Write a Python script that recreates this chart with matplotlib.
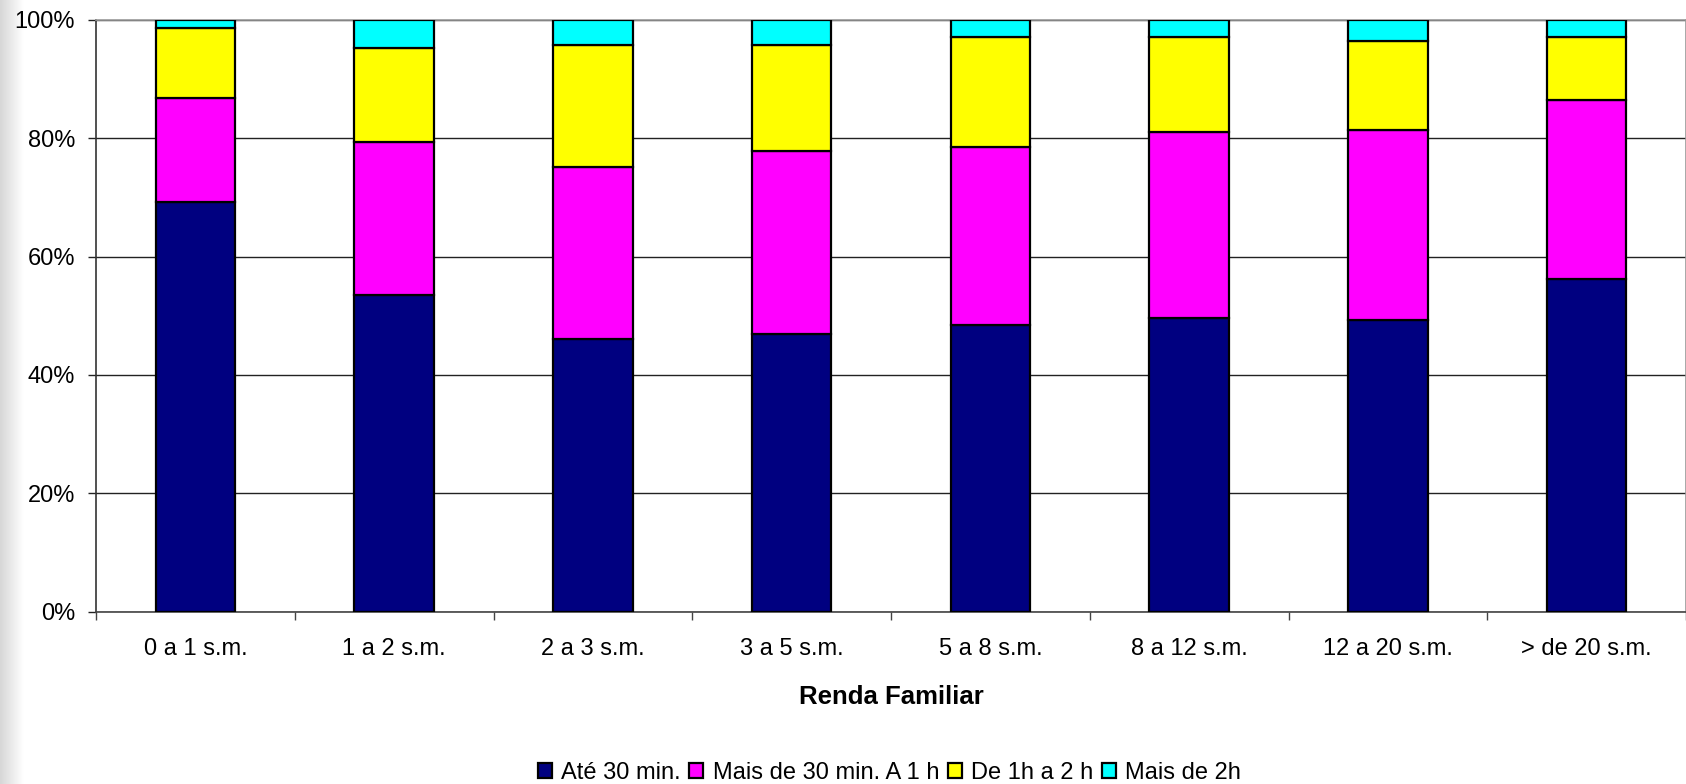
#tempo de deslocamento por faixa de renda familiar

import numpy as np
import matplotlib
matplotlib.use('Agg')
import matplotlib.pyplot as plt
from matplotlib.ticker import FixedLocator, PercentFormatter

plt.rcParams['font.family'] = ['Liberation Sans', 'DejaVu Sans']

#faixas de renda
faixas = ['0 a 1 s.m.', '1 a 2 s.m.', '2 a 3 s.m.', '3 a 5 s.m.',
          '5 a 8 s.m.', '8 a 12 s.m.', '12 a 20 s.m.', '> de 20 s.m.']

#percentuais de cada faixa de tempo
ate_30 = [69.3, 53.5, 46.1, 46.9, 48.4, 49.6, 49.2, 56.2]
de_30_a_1h = [17.5, 25.9, 29.1, 30.9, 30.2, 31.4, 32.2, 30.2]
de_1h_a_2h = [11.9, 15.8, 20.5, 17.9, 18.6, 16.2, 15.0, 10.8]
mais_2h = [1.3, 4.8, 4.3, 4.3, 2.8, 2.8, 3.6, 2.8]

series = [('Até 30 min.', ate_30, '#000080'),
          ('Mais de 30 min. A 1 h', de_30_a_1h, '#FF00FF'),
          ('De 1h a 2 h', de_1h_a_2h, '#FFFF00'),
          ('Mais de 2h', mais_2h, '#00FFFF')]

fig = plt.figure(figsize=(16.86, 7.84), dpi=100)

#faixa cinza na borda esquerda (atras de tudo)
strip = fig.add_axes([0, 0, 24 / 1686, 1], zorder=-1)
grad = np.linspace(0.84, 1.0, 64).reshape(1, -1)
strip.imshow(grad, cmap='gray', vmin=0, vmax=1, aspect='auto', extent=[0, 1, 0, 1])
strip.axis('off')

ax = fig.add_axes([96 / 1686, 1 - 611.5 / 784, 1 - 96 / 1686, 591.5 / 784])

x = np.arange(len(faixas))
bottom = np.zeros(len(faixas))
for nome, valores, cor in series:
    valores = np.array(valores)
    ax.bar(x, valores, 0.4, bottom=bottom, color=cor, edgecolor='black',
           linewidth=1.6, label=nome, zorder=3)
    bottom += valores

ax.set_xlim(-0.5, len(faixas) - 0.5)
ax.set_ylim(0, 100)

#eixo y
ax.set_yticks([0, 20, 40, 60, 80, 100])
ax.yaxis.set_major_formatter(PercentFormatter(decimals=0))
ax.tick_params(axis='y', direction='out', length=6, width=1, pad=9,
               labelsize=17, colors='#222222', labelcolor='black')
ax.grid(axis='y', color='#222222', linewidth=1, zorder=0)

#eixo x: marcas entre categorias, rotulos no centro
ax.xaxis.set_major_locator(FixedLocator(np.arange(-0.5, len(faixas) + 0.5, 1)))
ax.xaxis.set_major_formatter(plt.NullFormatter())
ax.xaxis.set_minor_locator(FixedLocator(x))
ax.set_xticklabels(faixas, minor=True)
ax.tick_params(axis='x', which='major', direction='out', length=6, width=1, colors='#444444')
ax.tick_params(axis='x', which='minor', length=0, pad=19, labelsize=17)

ax.spines['left'].set_color('#333333')
ax.spines['bottom'].set_color('#444444')
ax.spines['top'].set_color('#999999')
ax.spines['right'].set_color('#999999')
for s in ax.spines.values():
    s.set_linewidth(1.2)

fig.text(891 / 1686, 1 - 697 / 784, 'Renda Familiar', ha='center', va='center',
         fontsize=18.5, fontweight='bold')

fig.legend(loc='center', bbox_to_anchor=(889.5 / 1686, 1 - 773 / 784), ncol=4,
           frameon=False, fontsize=17, handlelength=0.6, handleheight=0.6,
           handletextpad=0.4, columnspacing=0.35, borderpad=0, borderaxespad=0)

fig.savefig('out.png', dpi=100)
